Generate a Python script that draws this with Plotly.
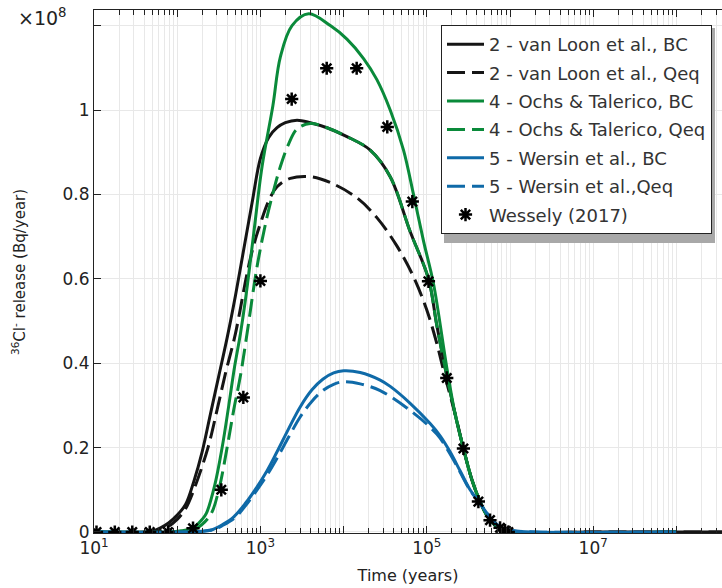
import plotly.graph_objects as go

# log10(time in years) and release in units of 1e8 Bq/year
lt_vl_bc = [1.0, 1.6, 1.7, 1.8, 1.9, 2.0, 2.1, 2.2, 2.3, 2.4, 2.5, 2.6, 2.7, 2.8, 2.9, 3.0, 3.1, 3.2, 3.3, 3.44, 3.6, 3.8, 4.04, 4.32, 4.56, 4.8, 5.02, 5.12, 5.24, 5.34, 5.44, 5.54, 5.64, 5.72, 5.8, 5.9, 6.04, 7.0, 9.0]
v_vl_bc = [0, 0, 0.002, 0.01, 0.022, 0.04, 0.065, 0.12, 0.19, 0.28, 0.37, 0.46, 0.56, 0.67, 0.78, 0.885, 0.935, 0.958, 0.97, 0.976, 0.97, 0.958, 0.937, 0.905, 0.842, 0.712, 0.6, 0.49, 0.37, 0.28, 0.198, 0.125, 0.072, 0.04, 0.02, 0.007, 0, 0, 0]

lt_vl_qeq = [1.0, 1.7, 1.85, 2.0, 2.1, 2.2, 2.37, 2.48, 2.58, 2.7, 2.84, 2.92, 3.0, 3.1, 3.2, 3.36, 3.6, 3.84, 4.16, 4.4, 4.64, 4.84, 5.0, 5.12, 5.22, 5.34, 5.44, 5.54, 5.64, 5.72, 5.8, 5.9, 6.04, 7.0, 9.0]
v_vl_qeq = [0, 0, 0.008, 0.03, 0.055, 0.1, 0.2, 0.29, 0.376, 0.47, 0.613, 0.68, 0.731, 0.785, 0.818, 0.838, 0.842, 0.828, 0.792, 0.745, 0.678, 0.605, 0.526, 0.447, 0.368, 0.28, 0.198, 0.125, 0.072, 0.04, 0.02, 0.007, 0, 0, 0]

lt_ot_bc = [1.0, 1.9, 2.05, 2.19, 2.3, 2.35, 2.45, 2.54, 2.62, 2.69, 2.76, 2.82, 2.92, 3.02, 3.15, 3.24, 3.38, 3.58, 3.84, 4.04, 4.24, 4.4, 4.56, 4.72, 4.84, 4.96, 5.08, 5.24, 5.34, 5.44, 5.54, 5.64, 5.72, 5.8, 5.9, 6.04, 8.0]
v_ot_bc = [0, 0, 0.003, 0.01, 0.03, 0.044, 0.11, 0.2, 0.3, 0.392, 0.47, 0.55, 0.708, 0.866, 1.01, 1.126, 1.2, 1.228, 1.2, 1.168, 1.122, 1.072, 1.0, 0.905, 0.8, 0.69, 0.589, 0.39, 0.28, 0.198, 0.125, 0.072, 0.04, 0.02, 0.007, 0, 0]

lt_ot_qeq = [1.0, 2.0, 2.2, 2.3, 2.41, 2.5, 2.6, 2.68, 2.76, 2.84, 2.96, 3.08, 3.16, 3.24, 3.34, 3.44, 3.6, 3.8, 4.04, 4.32, 4.56, 4.8, 5.02, 5.12, 5.24, 5.34, 5.44, 5.54, 5.64, 5.72, 5.8, 5.9, 6.04, 8.0]
v_ot_qeq = [0, 0, 0.005, 0.018, 0.044, 0.1, 0.2, 0.29, 0.37, 0.471, 0.629, 0.747, 0.81, 0.866, 0.92, 0.955, 0.968, 0.958, 0.937, 0.905, 0.842, 0.712, 0.6, 0.49, 0.37, 0.28, 0.198, 0.125, 0.072, 0.04, 0.02, 0.007, 0, 0]

lt_w_bc = [1.0, 2.1, 2.3, 2.43, 2.55, 2.68, 2.82, 2.96, 3.08, 3.2, 3.34, 3.48, 3.62, 3.75, 3.88, 4.0, 4.2, 4.44, 4.56, 4.8, 5.04, 5.16, 5.28, 5.4, 5.52, 5.64, 5.72, 5.8, 5.9, 6.04, 6.3, 8.0]
v_w_bc = [0, 0, 0.002, 0.006, 0.018, 0.036, 0.068, 0.107, 0.145, 0.19, 0.245, 0.297, 0.337, 0.362, 0.377, 0.382, 0.378, 0.36, 0.345, 0.305, 0.257, 0.228, 0.19, 0.145, 0.1, 0.068, 0.045, 0.025, 0.01, 0.003, 0, 0]

lt_w_qeq = [1.0, 2.1, 2.43, 2.55, 2.7, 2.82, 2.96, 3.08, 3.2, 3.34, 3.48, 3.62, 3.75, 3.88, 4.0, 4.2, 4.44, 4.8, 5.12, 5.28, 5.4, 5.52, 5.64, 5.72, 5.8, 5.9, 6.04, 6.3, 8.0]
v_w_qeq = [0, 0, 0.005, 0.016, 0.035, 0.062, 0.1, 0.135, 0.175, 0.225, 0.273, 0.31, 0.335, 0.35, 0.356, 0.351, 0.335, 0.288, 0.232, 0.185, 0.142, 0.099, 0.068, 0.045, 0.025, 0.01, 0.003, 0, 0]

lt_wessely = [1.03, 1.25, 1.46, 1.67, 1.89, 2.19, 2.53, 2.795, 3.0, 3.376, 3.797, 4.157, 4.525, 4.826, 5.02, 5.24, 5.44, 5.62, 5.76, 5.88, 5.94, 5.98]
v_wessely = [0, 0, 0, 0, 0, 0.009, 0.1, 0.319, 0.595, 1.026, 1.099, 1.099, 0.96, 0.783, 0.594, 0.365, 0.198, 0.072, 0.028, 0.01, 0.003, 0.0]

names = ["2 - van Loon et al., BC", "2 - van Loon et al., Qeq",
         "4 - Ochs & Talerico, BC", "4 - Ochs & Talerico, Qeq",
         "5 - Wersin et al., BC", "5 - Wersin et al.,Qeq", "Wessely (2017)"]

BLACK = "#151515"
GREEN = "#0a8a3a"
BLUE = "#0f6aa8"
DASH = "18px,7px"


def yrs(lt):
    return [10 ** v for v in lt]


fig = go.Figure()
series = [
    (lt_vl_bc, v_vl_bc, BLACK, "solid"),
    (lt_vl_qeq, v_vl_qeq, BLACK, DASH),
    (lt_ot_bc, v_ot_bc, GREEN, "solid"),
    (lt_ot_qeq, v_ot_qeq, GREEN, DASH),
    (lt_w_bc, v_w_bc, BLUE, "solid"),
    (lt_w_qeq, v_w_qeq, BLUE, DASH),
]
for i, (lt, v, c, d) in enumerate(series):
    fig.add_trace(go.Scatter(x=yrs(lt), y=v, mode="lines", name=names[i],
                             line=dict(color=c, width=3, dash=d, shape="spline", smoothing=1.0),
                             legendgroup=str(i)))
fig.add_trace(go.Scatter(x=yrs(lt_wessely), y=v_wessely, mode="markers", name=names[6],
                         marker=dict(symbol="asterisk-open", size=11, color="black",
                                     line=dict(color="black", width=2.5)),
                         legendgroup="6"))

font = "DejaVu Sans, Arial, sans-serif"
X0, W, B, H = 94, 628, 533, 523


def px(x):
    return (x - X0) / W


def py(y):
    return (B - y) / H


fig.add_shape(type="rect", xref="paper", yref="paper",
              x0=px(444), x1=px(715), y0=py(243), y1=py(28),
              fillcolor="#a8a8a8", line=dict(width=0), layer="above")

fig.update_layout(
    width=722, height=588,
    margin=dict(l=94, r=0, t=10, b=55),
    paper_bgcolor="white", plot_bgcolor="white",
    font=dict(family=font, color="#222", size=15),
    showlegend=True,
    legend=dict(x=px(441), y=py(25), xanchor="left", yanchor="top",
                bgcolor="white", bordercolor="#222", borderwidth=1,
                font=dict(size=18, family=font, color="#333"),
                tracegroupgap=2, traceorder="grouped", itemwidth=37),
    xaxis=dict(type="log", range=[1, 8.548],
               tickvals=[10, 100, 1000, 1e4, 1e5, 1e6, 1e7, 1e8],
               ticktext=["10<sup>1</sup>", "", "10<sup>3</sup>", "", "10<sup>5</sup>", "", "10<sup>7</sup>", ""],
               ticks="inside", ticklen=7, tickcolor="#222",
               showline=True, linecolor="#222", linewidth=1, mirror="ticks",
               showgrid=True, gridcolor="#e8e8e8", gridwidth=1,
               minor=dict(ticks="inside", ticklen=5, tickcolor="#222", dtick="D1",
                          showgrid=True, gridcolor="#e8e8e8", gridwidth=1),
               tickfont=dict(size=17, family=font, color="#222"),
               title=dict(text="Time (years)", font=dict(size=16, family=font, color="#222"), standoff=12),
               zeroline=False),
    yaxis=dict(range=[-0.0024, 1.237],
               tickvals=[0, 0.2, 0.4, 0.6, 0.8, 1.0, 1.2],
               ticktext=["0", "0.2", "0.4", "0.6", "0.8", "1", ""],
               ticks="inside", ticklen=7, tickcolor="#222",
               showline=True, linecolor="#222", linewidth=1,
               showgrid=True, gridcolor="#e8e8e8", gridwidth=1,
               tickfont=dict(size=17, family=font, color="#222"),
               zeroline=False),
)
fig.add_annotation(text="<sup>36</sup>Cl<sup>-</sup> release (Bq/year)", xref="paper", yref="paper",
                   x=px(19), y=py(272), xanchor="center", yanchor="middle", textangle=-90,
                   showarrow=False, font=dict(size=15, family=font, color="#222"))
fig.add_annotation(text="×10<sup>8</sup>", xref="paper", yref="paper", x=px(16), y=py(3),
                   xanchor="left", yanchor="top", showarrow=False,
                   font=dict(size=19, family=font, color="#222"))
fig.write_html("out.html")
